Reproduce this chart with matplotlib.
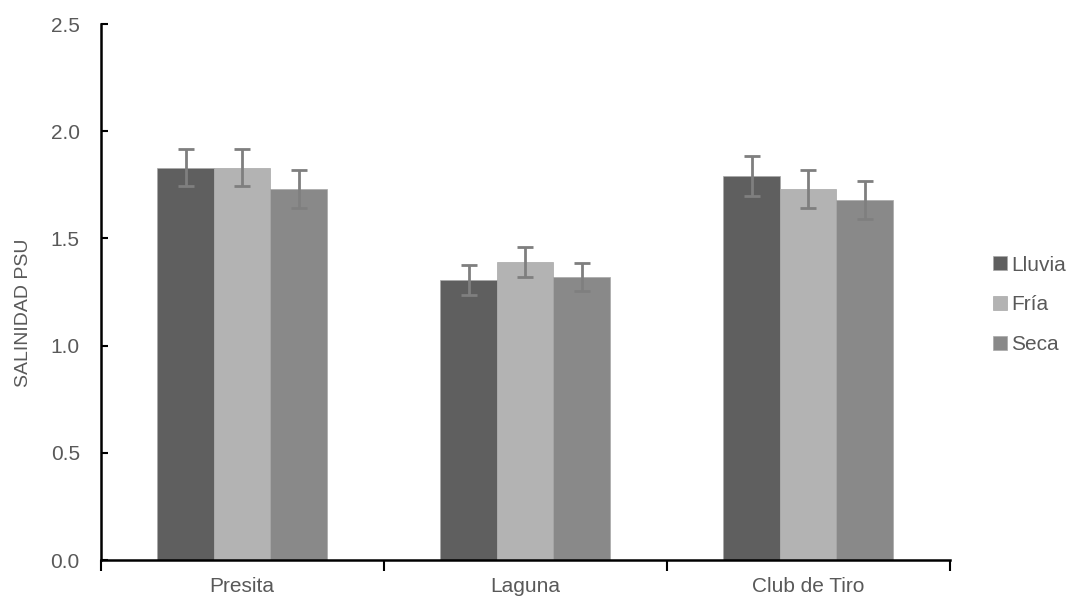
import numpy as np
import matplotlib.pyplot as plt

plt.rcParams['font.family'] = ['Liberation Sans', 'DejaVu Sans']

sitios = ["Presita", "Laguna", "Club de Tiro"]
temporadas = ["Lluvia", "Fría", "Seca"]

lluvia = [1.83, 1.305, 1.79]
fria = [1.83, 1.39, 1.73]
seca = [1.73, 1.32, 1.68]

err_lluvia = [0.087, 0.069, 0.093]
err_fria = [0.087, 0.068, 0.088]
err_seca = [0.087, 0.064, 0.088]

colores = ["#5f5f5f", "#b3b3b3", "#898989"]
gris = "#595959"

fig = plt.figure(figsize=(10.81, 6.01), dpi=100)
ax = fig.add_axes([100.6 / 1081, 41 / 601, 849 / 1081, 536 / 601])

x = np.arange(len(sitios))
ancho = 0.2
series = [lluvia, fria, seca]
errores = [err_lluvia, err_fria, err_seca]

for i, (vals, errs) in enumerate(zip(series, errores)):
    ax.bar(x + (i - 1) * ancho, vals, ancho, color=colores[i], label=temporadas[i],
           edgecolor="#a8a8a8", linewidth=0.5, zorder=2)
    ax.errorbar(x + (i - 1) * ancho, vals, yerr=errs, fmt="none", ecolor="#7f7f7f",
                elinewidth=2, capsize=6, capthick=2, zorder=3)

ax.set_xlim(-0.5, 2.5)
ax.set_ylim(0, 2.5)
ax.set_yticks(np.arange(0, 2.51, 0.5))
ax.set_yticklabels([f"{v:.1f}" for v in np.arange(0, 2.51, 0.5)])
ax.set_xticks([-0.5, 0.5, 1.5, 2.5], minor=False)
ax.set_xticklabels([])
ax.set_xticks(x, minor=True)
ax.set_xticklabels(sitios, minor=True)

ax.tick_params(axis="y", direction="in", length=5, width=1.5, colors="black",
               labelcolor=gris, labelsize=15, pad=15)
ax.tick_params(axis="x", which="major", direction="out", length=8, width=1.5, colors="black")
ax.tick_params(axis="x", which="minor", length=0, labelcolor=gris, labelsize=15, pad=12)

for lado in ["top", "right"]:
    ax.spines[lado].set_visible(False)
for lado in ["left", "bottom"]:
    ax.spines[lado].set_linewidth(1.8)
    ax.spines[lado].set_color("black")

ax.set_ylabel("SALINIDAD PSU", color=gris, fontsize=14)
ax.yaxis.set_label_coords(-0.081, 0.461)

ax.legend(loc="center left", bbox_to_anchor=(1.051, 0.476), frameon=False,
          fontsize=15, labelcolor=gris, handlelength=0.67, handleheight=0.67,
          handletextpad=0.2, labelspacing=1.0, borderaxespad=0, borderpad=0)

fig.savefig("out.png", dpi=100)
